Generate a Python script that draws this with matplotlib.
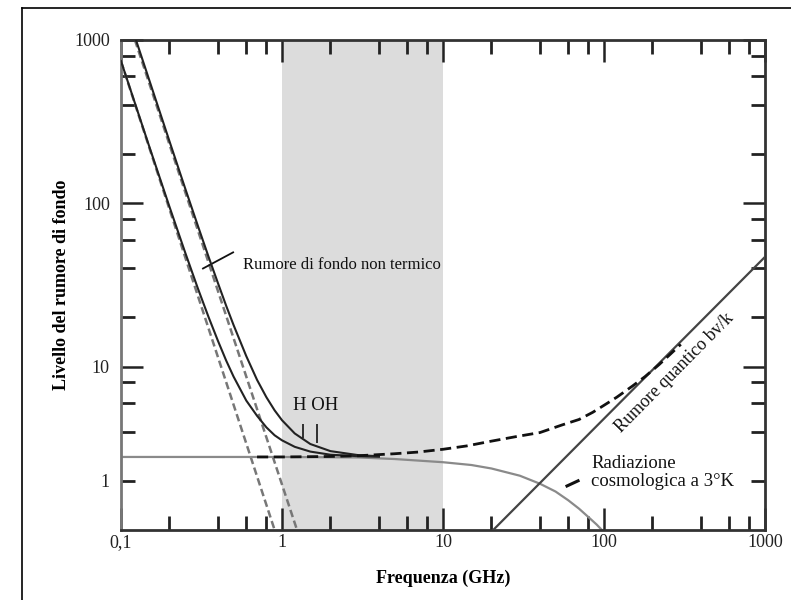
import numpy as np
import matplotlib
matplotlib.use("Agg")
import matplotlib.pyplot as plt
from matplotlib.lines import Line2D
from matplotlib.ticker import FixedLocator, FixedFormatter, NullFormatter

# ---- data (x in GHz, y = noise level) ----
# non-thermal power laws (dashed gray)
nt_low_x = [0.1, 0.9]
nt_low_y = [740, 1.0]
nt_high_x = [0.122, 1.24]
nt_high_y = [1000, 1.0]

# total background (solid black)
tot_low_x = [0.1, 0.15, 0.2, 0.25, 0.3, 0.35, 0.4, 0.45, 0.5, 0.6, 0.7, 0.8, 0.9, 1.0, 1.2, 1.5, 2.0, 3.0, 4.0]
tot_low_y = [743, 222, 95.3, 50.2, 30.2, 20.1, 14.4, 10.9, 8.7, 6.2, 5.0, 4.25, 3.8, 3.54, 3.23, 3.02, 2.89, 2.83, 2.81]
tot_high_x = [0.12, 0.15, 0.2, 0.25, 0.3, 0.35, 0.4, 0.45, 0.5, 0.6, 0.7, 0.8, 0.9, 1.0, 1.2, 1.5, 2.0, 3.0, 4.0]
tot_high_y = [1100, 566, 240, 124, 73, 47, 32.5, 23.6, 18, 11.6, 8.3, 6.5, 5.4, 4.7, 3.9, 3.36, 3.04, 2.87, 2.83]

# cosmic background 3 K (solid gray)
cmb_x = [0.1, 1, 3, 5, 10, 15, 20, 30, 40, 50, 60, 70, 80, 90, 100]
cmb_y = [2.8, 2.8, 2.78, 2.72, 2.6, 2.5, 2.38, 2.15, 1.92, 1.72, 1.52, 1.35, 1.2, 1.08, 0.97]

# background + quantum noise (black dashed)
sum_x = [0.7, 1, 2, 3, 5, 7, 10, 14, 20, 28, 40, 55, 70, 85, 100, 120, 150, 180, 220, 260, 300]
sum_y = [2.8, 2.8, 2.82, 2.85, 2.93, 3.0, 3.12, 3.27, 3.5, 3.72, 3.95, 4.4, 4.75, 5.25, 5.8, 6.5, 7.6, 8.7, 10.3, 12.0, 13.7]

# quantum noise h*nu/k
qn_x = [20.5, 1000]
qn_y = [1.0, 47]

# spectral lines H and OH
line_x = [1.35, 1.65]
line_y0 = [3.67, 3.42]
line_y1 = [4.47, 4.47]

band = (1, 10)
xticks_major = [0.1, 1, 10, 100, 1000]
xtick_labels = ["0,1", "1", "10", "100", "1000"]
xticks_minor = [m * d for d in [0.1, 1, 10, 100] for m in (2, 4, 6, 8)]
yticks_major = [10, 100, 1000]
ytick_labels = ["10", "100", "1000"]
yticks_minor = [m * d for d in [1, 10, 100] for m in (2, 4, 6, 8)]
ytick_minor_labels = ["1"] + [""] * 11

plt.rcParams["font.family"] = ["Liberation Serif", "DejaVu Serif"]

fig = plt.figure(figsize=(7.91, 6.0), dpi=100)
ax = fig.add_axes([121 / 791, 70 / 600, 644 / 791, 490 / 600])
ax.set_xscale("log")
ax.set_yscale("log")
ax.set_xlim(0.1, 1000)
ax.set_ylim(1, 1000)

ax.axvspan(*band, color="#dcdcdc", lw=0, zorder=0)

ax.plot(nt_low_x, nt_low_y, color="#777777", lw=1.8, dashes=(3, 1.5), zorder=2)
ax.plot(nt_high_x, nt_high_y, color="#777777", lw=1.8, dashes=(3, 1.5), zorder=2)
ax.plot(cmb_x, cmb_y, color="#8a8a8a", lw=1.6, zorder=2)
ax.plot(qn_x, qn_y, color="#444444", lw=1.6, zorder=3)
ax.plot(sum_x, sum_y, color="#111111", lw=2.0, dashes=(4, 2), zorder=4)
ax.plot(tot_low_x, tot_low_y, color="#222222", lw=1.5, zorder=3)
ax.plot(tot_high_x, tot_high_y, color="#222222", lw=1.5, zorder=3)
ax.vlines(line_x, line_y0, line_y1, color="#222222", lw=1.3, zorder=3)

ink = "#111111"
ax.text(0.573, 42, "Rumore di fondo non termico", va="center", ha="left",
        fontsize=12, color=ink)
ax.plot([0.323, 0.497], [39.9, 50.1], color=ink, lw=1.3)
ax.text(1.17, 5.77, "H OH", va="center", ha="left", fontsize=13.5, color=ink)
ax.text(83, 2.24, "Radiazione\ncosmologica a 3°K", va="center", ha="left",
        linespacing=1.05, fontsize=13.5, color=ink)
ax.plot([58.9, 69], [1.86, 2.0], color=ink, lw=2.2)
ax.text(276, 9.2, "Rumore quantico bv/k", rotation=45.3, rotation_mode="anchor",
        ha="center", va="center", fontsize=13, color=ink)

ax.xaxis.set_major_locator(FixedLocator(xticks_major))
ax.xaxis.set_major_formatter(FixedFormatter(xtick_labels))
ax.xaxis.set_minor_locator(FixedLocator(xticks_minor))
ax.xaxis.set_minor_formatter(NullFormatter())
ax.yaxis.set_major_locator(FixedLocator(yticks_major))
ax.yaxis.set_major_formatter(FixedFormatter(ytick_labels))
ax.yaxis.set_minor_locator(FixedLocator(yticks_minor))
ax.yaxis.set_minor_formatter(FixedFormatter(ytick_minor_labels))

ax.tick_params(which="both", direction="in", top=True, right=True,
               labelsize=13, colors="#222222")
ax.tick_params(which="major", length=16, width=1.8, pad=8)
ax.tick_params(which="minor", length=10, width=2.0, pad=8)
ax.tick_params(axis="x", which="both", pad=3)
for s in ax.spines.values():
    s.set_linewidth(2.0)
    s.set_color("#333333")
ax.spines["left"].set_color("#777777")

ax.set_xlabel("Frequenza (GHz)", fontsize=13, fontweight="bold", labelpad=13.5)
ax.set_ylabel("Livello del rumore di fondo", fontsize=13, fontweight="bold", labelpad=3)

# outer frame of the original page
fig.add_artist(Line2D([22 / 791, 22 / 791], [0, 1 - 8 / 600], color="black", lw=1.2))
fig.add_artist(Line2D([22 / 791, 1], [1 - 8 / 600, 1 - 8 / 600], color="black", lw=1.2))

fig.savefig("out.png", dpi=100)
